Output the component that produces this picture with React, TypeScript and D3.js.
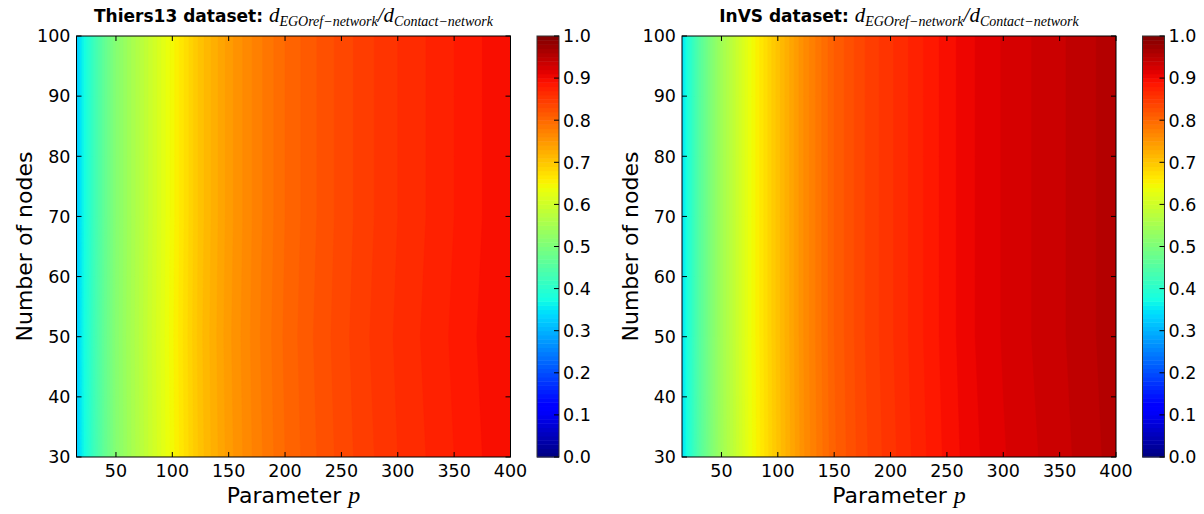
import React from "react";
import * as d3 from "d3";

const pValues = [15, 20, 30, 40, 50, 60, 75, 100, 125, 150, 175, 200, 225, 250, 275, 300, 325, 350, 375, 400];
const nodeValues = [30, 40, 50, 60, 70, 80, 90, 100];
const thiersRatio = [0.32, 0.36, 0.42, 0.47, 0.51, 0.54, 0.58, 0.645, 0.705, 0.745, 0.775, 0.8, 0.818, 0.834, 0.848, 0.86, 0.87, 0.88, 0.89, 0.895];
const thiersNodeShift = [0, 0.001, 0.002, 0.001, 0, 0, 0, 0];
const invsRatio = [0.34, 0.385, 0.45, 0.5, 0.545, 0.58, 0.635, 0.705, 0.765, 0.81, 0.838, 0.858, 0.877, 0.895, 0.91, 0.921, 0.93, 0.938, 0.947, 0.957];
const invsNodeShift = [-0.002, -0.001, 0, 0, 0, 0, 0, 0];
const xTicks = [50, 100, 150, 200, 250, 300, 350, 400];
const yTicks = [30, 40, 50, 60, 70, 80, 90, 100];
const cbTicks = [0, 0.1, 0.2, 0.3, 0.4, 0.5, 0.6, 0.7, 0.8, 0.9, 1.0];
const levels = d3.range(0, 100).map((i) => i / 100);

const panels = [
  { name: "Thiers13 dataset: ", ratio: thiersRatio, shift: thiersNodeShift },
  { name: "InVS dataset: ", ratio: invsRatio, shift: invsNodeShift },
];

// matplotlib "jet" colormap segments
const jetR: [number, number][] = [[0, 0], [0.35, 0], [0.66, 1], [0.89, 1], [1, 0.5]];
const jetG: [number, number][] = [[0, 0], [0.125, 0], [0.375, 1], [0.64, 1], [0.91, 0], [1, 0]];
const jetB: [number, number][] = [[0, 0.5], [0.11, 1], [0.34, 1], [0.65, 0], [1, 0]];
function seg(s: [number, number][], v: number) {
  return d3.scaleLinear().domain(s.map((d) => d[0])).range(s.map((d) => d[1])).clamp(true)(v);
}
function jet(v: number) {
  return d3.rgb(seg(jetR, v) * 255, seg(jetG, v) * 255, seg(jetB, v) * 255).formatHex();
}

const FONT = "DejaVu Sans";
const MATH = "Liberation Serif";
const AX = { x0: 76.5, x1: 510.5, y0: 36, y1: 457 };
const CB = { x0: 537, x1: 559 };
const DX = 605.5;

function Panel({ idx }: { idx: number }) {
  const panel = panels[idx];
  const off = idx * DX;
  const x = d3.scaleLinear().domain([15, 400]).range([AX.x0 + off, AX.x1 + off]);
  const y = d3.scaleLinear().domain([30, 100]).range([AX.y1, AX.y0]);
  const nx = pValues.length;
  const ny = nodeValues.length;
  const grid: number[] = [];
  for (let j = 0; j < ny; j++) for (let i = 0; i < nx; i++) grid.push(panel.ratio[i] + panel.shift[j]);
  const xi = d3.scaleLinear().domain(pValues.map((_, i) => i + 0.5)).range(pValues).clamp(true);
  const yi = d3.scaleLinear().domain(nodeValues.map((_, i) => i + 0.5)).range(nodeValues).clamp(true);
  const contours = d3.contours().size([nx, ny]).thresholds(levels)(grid);
  const path = d3.geoPath(
    d3.geoTransform({
      point(px: number, py: number) {
        (this as any).stream.point(x(xi(px)), y(yi(py)));
      },
    })
  );
  const cb = d3.scaleLinear().domain([0, 1]).range([AX.y1, AX.y0]);
  const cx = (AX.x0 + AX.x1) / 2 + off;
  const cy = (AX.y0 + AX.y1) / 2;
  const clipId = `clip${idx}`;
  return (
    <g>
      <defs>
        <clipPath id={clipId}>
          <rect x={AX.x0 + off} y={AX.y0} width={AX.x1 - AX.x0} height={AX.y1 - AX.y0} />
        </clipPath>
      </defs>
      <g clipPath={`url(#${clipId})`}>
        {contours.map((c, k) => (
          <path key={k} d={path(c as any) || ""} fill={jet(c.value + 0.005)} stroke={jet(c.value + 0.005)} strokeWidth={0.4} />
        ))}
      </g>
      <rect x={AX.x0 + off} y={AX.y0} width={AX.x1 - AX.x0} height={AX.y1 - AX.y0} fill="none" stroke="#000" strokeWidth={1} />
      {xTicks.map((t) => (
        <g key={t}>
          <line x1={x(t)} x2={x(t)} y1={AX.y1} y2={AX.y1 - 5} stroke="#000" />
          <line x1={x(t)} x2={x(t)} y1={AX.y0} y2={AX.y0 + 5} stroke="#000" />
          <text x={x(t)} y={AX.y1 + 20} textAnchor="middle" fontFamily={FONT} fontSize={17.5}>{t}</text>
        </g>
      ))}
      {yTicks.map((t) => (
        <g key={t}>
          <line x1={AX.x0 + off} x2={AX.x0 + off + 5} y1={y(t)} y2={y(t)} stroke="#000" />
          <line x1={AX.x1 + off} x2={AX.x1 + off - 5} y1={y(t)} y2={y(t)} stroke="#000" />
          <text x={AX.x0 + off - 6} y={y(t)} dy="0.36em" textAnchor="end" fontFamily={FONT} fontSize={17.5}>{t}</text>
        </g>
      ))}
      <text x={cx} y={503} textAnchor="middle" fontFamily={FONT} fontSize={22}>
        Parameter <tspan fontFamily={MATH} fontStyle="italic" fontSize={24}>p</tspan>
      </text>
      <text transform={`translate(${32 + off},${cy}) rotate(-90)`} textAnchor="middle" fontFamily={FONT} fontSize={22}>
        Number of nodes
      </text>
      <text x={cx} y={22} textAnchor="middle" fontFamily={FONT} fontSize={17} fontWeight="bold">
        <tspan>{panel.name}</tspan>
        <tspan fontFamily={MATH} fontStyle="italic" fontWeight="normal" fontSize={21}>d</tspan>
        <tspan fontFamily={MATH} fontStyle="italic" fontWeight="normal" fontSize={14} dy={4}>EGOref−network</tspan>
        <tspan fontFamily={MATH} fontStyle="italic" fontWeight="normal" fontSize={21} dy={-4}>/d</tspan>
        <tspan fontFamily={MATH} fontStyle="italic" fontWeight="normal" fontSize={14} dy={4}>Contact−network</tspan>
      </text>
      {/* colorbar */}
      {levels.map((t) => (
        <rect key={t} x={CB.x0 + off} width={CB.x1 - CB.x0} y={cb(t + 0.01)} height={cb(t) - cb(t + 0.01) + 0.5} fill={jet(t + 0.005)} />
      ))}
      <rect x={CB.x0 + off} y={AX.y0} width={CB.x1 - CB.x0} height={AX.y1 - AX.y0} fill="none" stroke="#333" strokeWidth={1} />
      {cbTicks.map((t) => (
        <g key={t}>
          <line x1={CB.x1 + off} x2={CB.x1 + off - 5} y1={cb(t)} y2={cb(t)} stroke="#000" />
          <text x={CB.x1 + off + 4} y={cb(t)} dy="0.36em" fontFamily={FONT} fontSize={17.5}>{t.toFixed(1)}</text>
        </g>
      ))}
    </g>
  );
}

export default function App() {
  return (
    <svg width={1204} height={514} style={{ display: "block", position: "absolute", left: 0, top: 0 }}>
      <rect width={1204} height={514} fill="#fff" />
      <Panel idx={0} />
      <Panel idx={1} />
    </svg>
  );
}
